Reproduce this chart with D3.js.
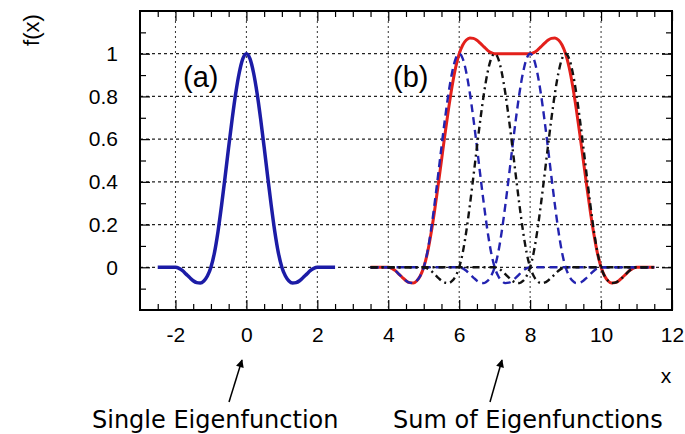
<!DOCTYPE html>
<html lang="en">

<head>
  <meta charset="utf-8">
  <title>Eigenfunctions</title>
  <script src="https://d3js.org/d3.v7.min.js"></script>
  <style type="text/css">
    body { margin: 0; background: #fff; }
    .tick text { font-family: "Liberation Sans", Arial, sans-serif; font-size: 21px; fill: #000; }
  </style>
</head>

<body>
  <script type="text/javascript">
    // tick positions
    var xTicks = [-2, 0, 2, 4, 6, 8, 10, 12];
    var xMinor = [-2.5, -1.5, -1, -0.5, 0.5, 1, 1.5, 2.5, 3, 3.5, 4.5, 5, 5.5, 6.5, 7, 7.5, 8.5, 9, 9.5, 10.5, 11, 11.5];
    var yTicks = [0, 0.2, 0.4, 0.6, 0.8, 1];
    var yMinor = [-0.1, 0.1, 0.3, 0.5, 0.7, 0.9, 1.1];
    var xGrid = [-2, 0, 2, 4, 6, 8, 10];

    // single eigenfunction
    var offsets = [-2.0, -1.9, -1.8, -1.7, -1.6, -1.5, -1.4, -1.3, -1.2, -1.1, -1.0,
      -0.9, -0.8, -0.7, -0.6, -0.5, -0.4, -0.3, -0.2, -0.1, 0,
      0.1, 0.2, 0.3, 0.4, 0.5, 0.6, 0.7, 0.8, 0.9, 1.0,
      1.1, 1.2, 1.3, 1.4, 1.5, 1.6, 1.7, 1.8, 1.9, 2.0];
    var shape = [0, -0.005, -0.016, -0.032, -0.048, -0.063, -0.072, -0.074, -0.064, -0.041, 0,
      0.069, 0.168, 0.290, 0.424, 0.563, 0.696, 0.816, 0.912, 0.977, 1,
      0.977, 0.912, 0.816, 0.696, 0.563, 0.424, 0.290, 0.168, 0.069, 0,
      -0.041, -0.064, -0.074, -0.072, -0.063, -0.048, -0.032, -0.016, -0.005, 0];
    var singleSpan = [-2.5, 2.5];

    // panel (b): shifted copies and their sum
    var centers = [6, 7, 8, 9];
    var sumSpan = [3.5, 11.5];
    var sumX = [3.5, 4.0, 4.1, 4.2, 4.3, 4.4, 4.5, 4.6, 4.7, 4.8, 4.9, 5.0,
      5.1, 5.2, 5.3, 5.4, 5.5, 5.6, 5.7, 5.8, 5.9, 6.0,
      6.1, 6.2, 6.3, 6.4, 6.5, 6.6, 6.7, 6.8, 6.9, 7.0,
      8.0, 8.1, 8.2, 8.3, 8.4, 8.5, 8.6, 8.7, 8.8, 8.9, 9.0,
      9.1, 9.2, 9.3, 9.4, 9.5, 9.6, 9.7, 9.8, 9.9, 10.0,
      10.1, 10.2, 10.3, 10.4, 10.5, 10.6, 10.7, 10.8, 10.9, 11.0, 11.5];
    var sumY = [0, 0, -0.005, -0.016, -0.032, -0.048, -0.063, -0.072, -0.074, -0.064, -0.041, 0,
      0.064, 0.152, 0.258, 0.376, 0.5, 0.624, 0.742, 0.848, 0.936, 1,
      1.041, 1.064, 1.074, 1.072, 1.063, 1.048, 1.032, 1.016, 1.005, 1,
      1, 1.005, 1.016, 1.032, 1.048, 1.063, 1.072, 1.074, 1.064, 1.041, 1,
      0.936, 0.848, 0.742, 0.624, 0.5, 0.376, 0.258, 0.152, 0.064, 0,
      -0.041, -0.064, -0.074, -0.072, -0.063, -0.048, -0.032, -0.016, -0.005, 0, 0];

    var w = 685, h = 434;
    var plotLeft = 140, plotRight = 672, plotTop = 11, plotBottom = 310;

    var svg = d3.select("body").append("svg")
      .attr("width", w)
      .attr("height", h);

    var x = d3.scaleLinear().domain([-3, 12]).range([plotLeft, plotRight]);
    var y = d3.scaleLinear().domain([-0.2, 1.2]).range([plotBottom, plotTop]);

    // dotted grid
    svg.append("g").selectAll("line").data(xGrid).enter().append("line")
      .attr("x1", d => x(d)).attr("x2", d => x(d))
      .attr("y1", plotTop).attr("y2", plotBottom)
      .attr("stroke", "#333").attr("stroke-width", 1)
      .attr("stroke-dasharray", "2,3");
    svg.append("g").selectAll("line").data(yTicks).enter().append("line")
      .attr("x1", plotLeft).attr("x2", plotRight)
      .attr("y1", d => y(d)).attr("y2", d => y(d))
      .attr("stroke", "#222").attr("stroke-width", 1.2)
      .attr("stroke-dasharray", "3,3");

    // axes: ticks inward on all four sides
    function addAxis(axis, tx, ty) {
      var g = svg.append("g").attr("transform", "translate(" + tx + "," + ty + ")").call(axis);
      g.select(".domain").remove();
      g.selectAll(".tick line").attr("stroke", "#000").attr("stroke-width", 1.2);
      return g;
    }
    addAxis(d3.axisBottom(x).tickValues(xTicks).tickSizeInner(-10).tickSizeOuter(0).tickPadding(17)
      .tickFormat(d => String(d)), 0, plotBottom);
    addAxis(d3.axisBottom(x).tickValues(xMinor).tickSize(-6).tickFormat(""), 0, plotBottom);
    addAxis(d3.axisTop(x).tickValues(xTicks).tickSize(-10).tickFormat(""), 0, plotTop);
    addAxis(d3.axisTop(x).tickValues(xMinor).tickSize(-6).tickFormat(""), 0, plotTop);
    addAxis(d3.axisLeft(y).tickValues(yTicks).tickSizeInner(-10).tickSizeOuter(0).tickPadding(22)
      .tickFormat(d => String(d)), plotLeft, 0);
    addAxis(d3.axisLeft(y).tickValues(yMinor).tickSize(-6).tickFormat(""), plotLeft, 0);
    addAxis(d3.axisRight(y).tickValues(yTicks).tickSize(-10).tickFormat(""), plotRight, 0);
    addAxis(d3.axisRight(y).tickValues(yMinor).tickSize(-6).tickFormat(""), plotRight, 0);

    svg.append("rect")
      .attr("x", plotLeft).attr("y", plotTop)
      .attr("width", plotRight - plotLeft).attr("height", plotBottom - plotTop)
      .attr("fill", "none").attr("stroke", "#000").attr("stroke-width", 2);

    var line = d3.line()
      .x(d => x(d[0]))
      .y(d => y(d[1]))
      .curve(d3.curveMonotoneX);

    // (a) single eigenfunction
    var single = [[singleSpan[0], 0]].concat(offsets.map((o, i) => [o, shape[i]]), [[singleSpan[1], 0]]);
    svg.append("path").datum(single)
      .attr("d", line)
      .attr("fill", "none").attr("stroke", "#1c1ca6").attr("stroke-width", 3.5)
      .attr("stroke-linejoin", "round");

    // (b) sum
    var sum = sumX.map((v, i) => [v, sumY[i]]);
    svg.append("path").datum(sum)
      .attr("d", line)
      .attr("fill", "none").attr("stroke", "#e3201b").attr("stroke-width", 3)
      .attr("stroke-linejoin", "round");

    // shifted eigenfunctions: blue dashed at 6, 8 ; black dash-dot at 7, 9
    var order = [0, 2, 1, 3];
    order.forEach(function (k) {
      var c = centers[k];
      var pts = [[sumSpan[0], 0]].concat(offsets.map((o, i) => [c + o, shape[i]]), [[sumSpan[1], 0]]);
      var blue = (k % 2 === 0);
      svg.append("path").datum(pts)
        .attr("d", line)
        .attr("fill", "none")
        .attr("stroke", blue ? "#2323b0" : "#111")
        .attr("stroke-width", 2.4)
        .attr("stroke-dasharray", blue ? "8,5" : "7,4,2,4");
    });

    // panel labels
    svg.append("text").attr("x", 183).attr("y", 87).text("(a)")
      .style("font-family", "Liberation Sans, Arial, sans-serif").style("font-size", "29px");
    svg.append("text").attr("x", 393).attr("y", 87).text("(b)")
      .style("font-family", "Liberation Sans, Arial, sans-serif").style("font-size", "29px");

    // axis titles
    svg.append("text")
      .attr("transform", "translate(38.5,30) rotate(-90)")
      .attr("text-anchor", "middle")
      .style("font-family", "Liberation Sans, Arial, sans-serif").style("font-size", "22px")
      .text("f(x)");
    svg.append("text")
      .attr("x", 666).attr("y", 383)
      .attr("text-anchor", "middle")
      .style("font-family", "Liberation Sans, Arial, sans-serif").style("font-size", "21px")
      .text("x");

    // arrows + captions
    svg.append("defs").append("marker")
      .attr("id", "head")
      .attr("viewBox", "0 0 10 10")
      .attr("refX", 9).attr("refY", 5)
      .attr("markerWidth", 10).attr("markerHeight", 8)
      .attr("markerUnits", "userSpaceOnUse")
      .attr("orient", "auto")
      .append("path").attr("d", "M0,0 L10,5 L0,10 z").attr("fill", "#000");

    svg.append("line")
      .attr("x1", 229).attr("y1", 402).attr("x2", 242).attr("y2", 360)
      .attr("stroke", "#000").attr("stroke-width", 1.5).attr("marker-end", "url(#head)");
    svg.append("line")
      .attr("x1", 490).attr("y1", 402).attr("x2", 502).attr("y2", 360)
      .attr("stroke", "#000").attr("stroke-width", 1.5).attr("marker-end", "url(#head)");

    svg.append("text").attr("x", 92).attr("y", 428).text("Single Eigenfunction")
      .style("font-family", "DejaVu Sans, sans-serif").style("font-size", "24px");
    svg.append("text").attr("x", 393).attr("y", 428).text("Sum of Eigenfunctions")
      .style("font-family", "DejaVu Sans, sans-serif").style("font-size", "24px");
  </script>
</body>

</html>
